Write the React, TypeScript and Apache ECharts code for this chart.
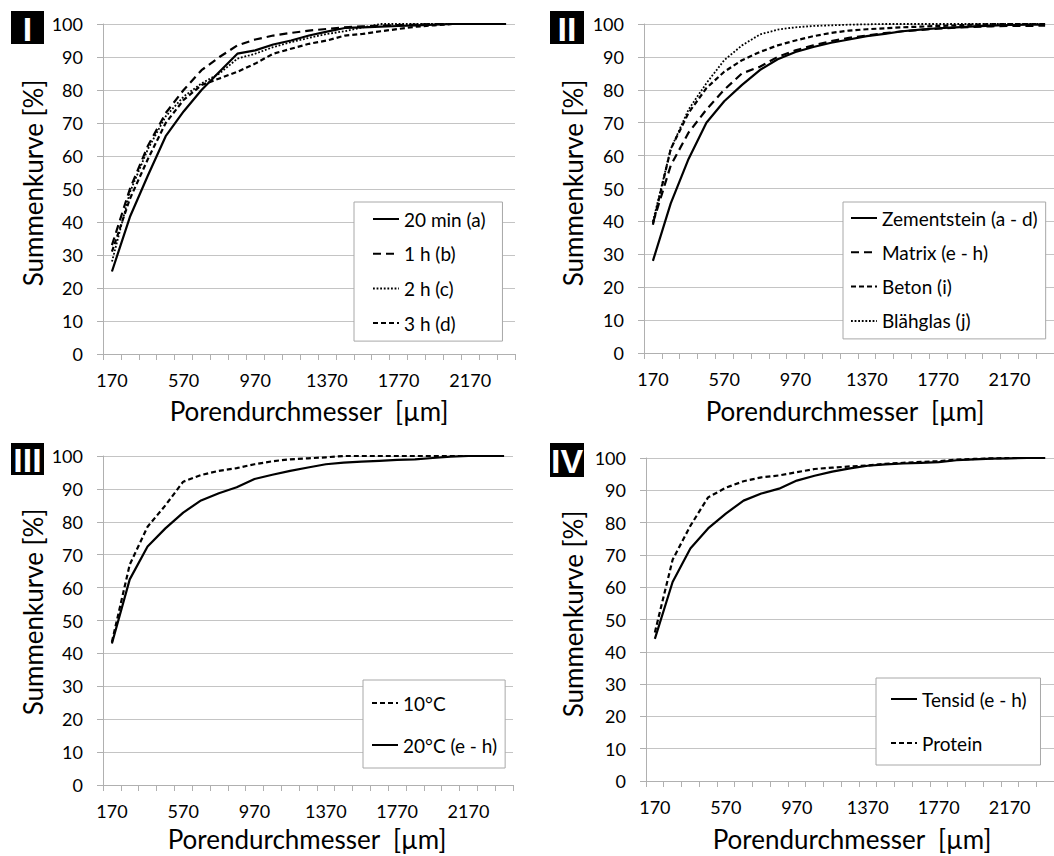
import React, { useEffect, useRef } from "react";
import * as echarts from "echarts";

// Pore diameter classes [µm]
const diameters = [
  "170", "270", "370", "470", "570", "670", "770", "870", "970", "1070", "1170", "1270",
  "1370", "1470", "1570", "1670", "1770", "1870", "1970", "2070", "2170", "2270", "2370",
];

// I – mixing time
const min20 = [25, 41.5, 54, 66, 73.5, 80, 85.5, 91, 92, 93.8, 95, 96.5, 97.7, 98.8, 99, 99.2, 99.4, 99.6, 99.8, 100, 100, 100, 100];
const hour1 = [33, 50, 63, 73, 80, 86, 90, 93.5, 95.3, 96.5, 97.3, 98, 98.5, 99, 99.3, 99.5, 99.7, 99.8, 100, 100, 100, 100, 100];
const hour2 = [28, 49, 62, 72, 78, 82, 85, 89.5, 91, 93, 94.5, 95.8, 97, 97.8, 99, 100, 100, 100, 100, 100, 100, 100, 100];
const hour3 = [31, 47, 59, 70, 77, 81.5, 83.5, 85.5, 88, 91, 92.5, 94, 95, 96.5, 97, 97.8, 98.5, 99.2, 99.6, 100, 100, 100, 100];

// II – material
const zementstein = [28, 45.5, 59, 70, 76.5, 81.5, 86, 89.3, 91.5, 93, 94.3, 95.3, 96.3, 97, 97.8, 98.3, 98.7, 99, 99.3, 99.5, 99.7, 99.8, 99.8];
const matrix = [39.5, 57, 67, 74, 80, 85, 87, 90, 92, 93.5, 94.8, 95.8, 96.5, 97.2, 97.8, 98.2, 98.6, 98.9, 99.1, 99.3, 99.4, 99.4, 99.5];
const beton = [39, 62, 73, 80.5, 85.5, 89, 91.5, 93.5, 95, 96.3, 97.3, 98, 98.4, 98.7, 99, 99.2, 99.4, 99.6, 99.8, 100, 100, 100, 100];
const blaehglas = [40, 62, 74, 82, 89, 93.5, 96.8, 98.3, 99, 99.4, 99.6, 99.8, 99.9, 100, 100, 100, 100, 100, 100, 100, 100, 100, 100];

// III – temperature
const temp10 = [43.5, 67, 78.5, 85, 92.2, 94.2, 95.5, 96.3, 97.5, 98.4, 99, 99.3, 99.6, 100, 100, 100, 100, 100, 100, 100, 100, 100, 100];
const temp20 = [43, 62.5, 72.5, 78, 82.8, 86.5, 88.7, 90.5, 93, 94.3, 95.5, 96.5, 97.5, 98, 98.3, 98.5, 98.8, 99, 99.4, 99.8, 100, 100, 100];

// IV – foaming agent
const tensid = [44, 61.6, 72, 78.2, 82.8, 86.8, 89, 90.5, 93, 94.5, 95.8, 96.8, 97.6, 98, 98.3, 98.5, 98.7, 99.3, 99.6, 99.8, 99.9, 100, 100];
const protein = [46, 68.5, 79, 87.8, 90.8, 92.8, 94, 94.6, 95.6, 96.6, 97, 97.4, 97.7, 98.2, 98.5, 98.8, 99, 99.5, 99.7, 99.9, 100, 100, 100];

const FONT = "Lato";
const TEXT = "#000";
const GRID_LINE = "#c4c4c4";
const AXIS_LINE = "#b0b0b0";

const SOLID = "solid";
const LONG_DASH = [8, 5];
const SHORT_DASH = [5, 3];
const DOTS = [1.8, 1.8];

// plot areas: left, top, width, height
const panels = [
  { left: 103, top: 24, width: 412, height: 330 },
  { left: 644, top: 24, width: 412, height: 329 },
  { left: 103, top: 456, width: 410, height: 329 },
  { left: 646, top: 458, width: 412, height: 323 },
];

function lineSeries(name: string, data: number[], idx: number, dash: any, width = 2.2) {
  return {
    type: "line",
    name,
    data,
    xAxisIndex: idx,
    yAxisIndex: idx,
    symbol: "none",
    silent: true,
    itemStyle: { color: "#000" },
    lineStyle: { color: "#000", width, type: dash, cap: "butt", join: "round" },
    emphasis: { disabled: true },
  };
}

function legend(left: number, top: number, names: string[], gap: number, padding: number[]) {
  return {
    left,
    top,
    orient: "vertical",
    data: names,
    itemWidth: 26,
    itemHeight: 14,
    itemGap: gap,
    padding,
    borderColor: "#a8a8a8",
    borderWidth: 1,
    backgroundColor: "#fff",
    selectedMode: false,
    // line-only keys: hide the marker that is drawn on top of the line sample
    itemStyle: { color: "rgba(0,0,0,0)", borderWidth: 0, opacity: 0 },
    textStyle: { fontFamily: FONT, fontSize: 19, color: TEXT, lineHeight: 20 },
  };
}

function badge(x: number, y: number, w: number, h: number, label: string) {
  return {
    type: "group",
    children: [
      { type: "rect", shape: { x, y, width: w, height: h }, style: { fill: "#000" } },
      {
        type: "text",
        x: x + w / 2,
        y: y + h / 2 + 1,
        style: {
          text: label,
          fill: "#fff",
          font: "bold 34px 'Liberation Sans'",
          align: "center",
          verticalAlign: "middle",
        },
      },
    ],
  };
}

function title(x: number, y: number, text: string, vertical: boolean) {
  return {
    type: "text",
    x,
    y,
    rotation: vertical ? Math.PI / 2 : 0,
    style: {
      text,
      fill: TEXT,
      font: `26px ${FONT}`,
      lineHeight: 22,
      align: "center",
      verticalAlign: "middle",
    },
  };
}

export default function App() {
  const ref = useRef<HTMLDivElement>(null);

  useEffect(() => {
    if (!ref.current) return;
    const chart = echarts.init(ref.current, undefined, { renderer: "svg" });

    const xAxes = panels.map((_, i) => ({
      type: "category",
      gridIndex: i,
      data: diameters,
      boundaryGap: true,
      axisLine: { show: true, lineStyle: { color: AXIS_LINE, width: 1 } },
      axisTick: { show: true, interval: 0, length: 6, lineStyle: { color: AXIS_LINE } },
      axisLabel: { interval: 3, margin: 17, fontFamily: FONT, fontSize: 18, color: TEXT },
      splitLine: { show: false },
    }));

    const yAxes = panels.map((_, i) => ({
      type: "value",
      gridIndex: i,
      min: 0,
      max: 100,
      interval: 10,
      axisLine: { show: true, lineStyle: { color: AXIS_LINE, width: 1 } },
      axisTick: { show: true, length: 6, lineStyle: { color: AXIS_LINE } },
      axisLabel: { margin: 20, fontFamily: FONT, fontSize: 18, color: TEXT },
      splitLine: { show: true, lineStyle: { color: GRID_LINE, width: 1 } },
    }));

    chart.setOption({
      animation: false,
      backgroundColor: "#fff",
      grid: panels.map((p) => ({ ...p, containLabel: false })),
      xAxis: xAxes,
      yAxis: yAxes,
      legend: [
        legend(354, 202, ["20 min (a)", "1 h (b)", "2 h (c)", "3 h (d)"], 14.7, [7, 17, 8, 18]),
        legend(843, 202, ["Zementstein (a - d)", "Matrix (e - h)", "Beton (i)", "Blähglas (j)"], 14.3, [6, 8, 8, 7]),
        legend(363, 680, ["10°C", "20°C (e - h)"], 22, [13, 8, 13, 8]),
        legend(876, 678, ["Tensid (e - h)", "Protein"], 24, [11, 14, 12, 14]),
      ],
      series: [
        lineSeries("20 min (a)", min20, 0, SOLID),
        lineSeries("1 h (b)", hour1, 0, LONG_DASH),
        lineSeries("2 h (c)", hour2, 0, DOTS, 1.8),
        lineSeries("3 h (d)", hour3, 0, SHORT_DASH),
        lineSeries("Zementstein (a - d)", zementstein, 1, SOLID),
        lineSeries("Matrix (e - h)", matrix, 1, LONG_DASH),
        lineSeries("Beton (i)", beton, 1, SHORT_DASH),
        lineSeries("Blähglas (j)", blaehglas, 1, DOTS, 1.8),
        lineSeries("10°C", temp10, 2, SHORT_DASH),
        lineSeries("20°C (e - h)", temp20, 2, SOLID),
        lineSeries("Tensid (e - h)", tensid, 3, SOLID),
        lineSeries("Protein", protein, 3, SHORT_DASH),
      ],
      graphic: [
        badge(11, 11, 33, 33, "I"),
        badge(550, 11, 34, 33, "II"),
        badge(11, 443, 33, 32, "III"),
        badge(550, 443, 34, 34, "IV"),
        title(33, 183, "Summenkurve [%]", true),
        title(573, 183, "Summenkurve [%]", true),
        title(33, 612, "Summenkurve [%]", true),
        title(573, 614, "Summenkurve [%]", true),
        title(309, 411, "Porendurchmesser  [µm]", false),
        title(845, 411, "Porendurchmesser  [µm]", false),
        title(307, 839, "Porendurchmesser  [µm]", false),
        title(852, 839, "Porendurchmesser  [µm]", false),
      ],
    });

    return () => chart.dispose();
  }, []);

  return (
    <div
      ref={ref}
      style={{ position: "fixed", left: 0, top: 0, width: 1054, height: 856, background: "#fff" }}
    />
  );
}
